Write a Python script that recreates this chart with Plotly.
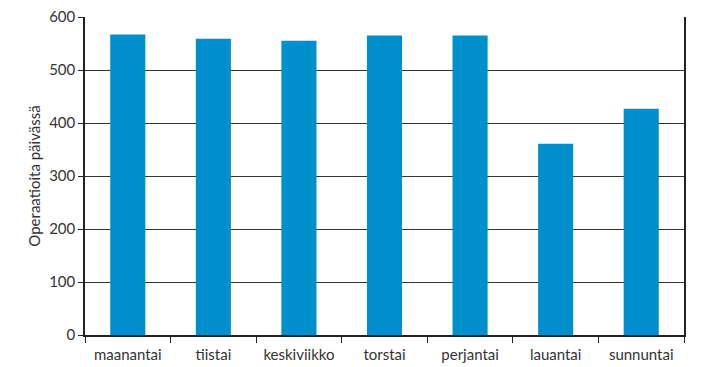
import plotly.graph_objects as go

categories = ["maanantai", "tiistai", "keskiviikko", "torstai", "perjantai", "lauantai", "sunnuntai"]
values = [567, 559, 555, 565, 565, 361, 427]
y_ticks = [0, 100, 200, 300, 400, 500, 600]
y_title = "Operaatioita päivässä"

fig = go.Figure(go.Bar(x=categories, y=values, marker=dict(color="#008FCD", line=dict(width=0))))

font_family = "Lato, Open Sans, sans-serif"
fig.update_layout(
    width=706, height=367,
    margin=dict(l=85, r=22, t=17, b=32),
    plot_bgcolor="white", paper_bgcolor="white",
    bargap=0.59,
    showlegend=False,
    font=dict(family=font_family, size=14, color="#333333"),
)
fig.update_xaxes(
    automargin=False,
    showline=True, linecolor="#222222", linewidth=1.5, mirror=False,
    ticks="outside", tickson="boundaries", ticklen=6, tickcolor="#222222",
    tickfont=dict(size=15, color="#333333"),
    ticklabelstandoff=5,
    showgrid=False,
)
fig.update_yaxes(
    automargin=False,
    range=[0, 600], tickvals=y_ticks,
    showline=True, linecolor="#222222", linewidth=1.5, mirror=True,
    ticks="outside", ticklen=5, tickcolor="#222222",
    showgrid=True, gridcolor="#333333", gridwidth=1.2,
    zeroline=False,
    tickfont=dict(size=15, color="#333333"),
    title=dict(text=y_title, font=dict(size=15, color="#333333"), standoff=5),
)
fig.write_html("out.html")
